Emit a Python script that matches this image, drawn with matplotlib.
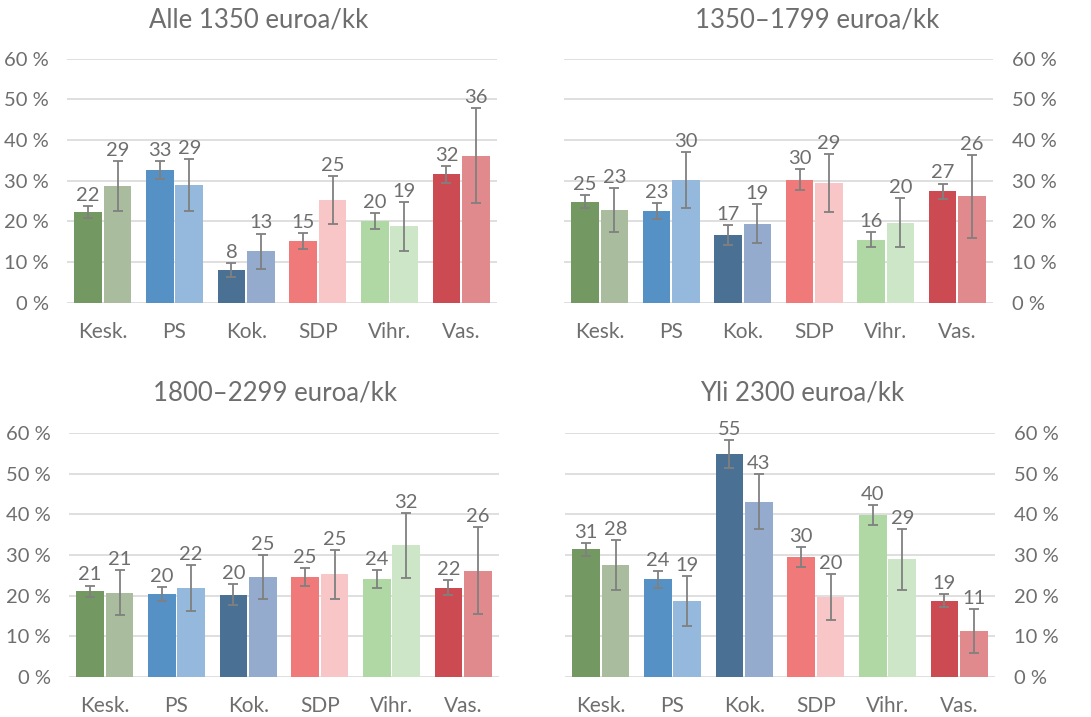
import matplotlib
matplotlib.use("Agg")
import matplotlib.pyplot as plt
import numpy as np

plt.rcParams["font.family"] = ["Lato", "DejaVu Sans"]

parties = ["Kesk.", "PS", "Kok.", "SDP", "Vihr.", "Vas."]
titles = ["Alle 1350 euroa/kk", "1350–1799 euroa/kk", "1800–2299 euroa/kk", "Yli 2300 euroa/kk"]

# dark bar values and error half-widths, then light bar values and errors (per panel)
dark_vals = [
    [22.3, 32.7, 8.0, 15.2, 20.1, 31.6],
    [24.8, 22.6, 16.7, 30.2, 15.5, 27.4],
    [21.1, 20.4, 20.2, 24.6, 24.1, 22.0],
    [31.4, 24.0, 54.8, 29.5, 39.8, 18.8],
]
dark_err = [
    [1.4, 2.2, 1.8, 2.0, 2.0, 2.1],
    [1.6, 2.0, 2.4, 2.6, 1.8, 1.9],
    [1.4, 1.8, 2.6, 2.3, 2.1, 1.8],
    [1.6, 2.0, 3.5, 2.5, 2.45, 1.7],
]
light_vals = [
    [28.7, 28.9, 12.6, 25.2, 18.8, 36.1],
    [22.8, 30.2, 19.4, 29.4, 19.7, 26.2],
    [20.7, 21.9, 24.6, 25.3, 32.4, 26.1],
    [27.6, 18.7, 43.1, 19.7, 28.9, 11.3],
]
light_err = [
    [6.1, 6.4, 4.4, 5.9, 6.0, 11.7],
    [5.5, 6.8, 4.8, 7.1, 6.1, 10.2],
    [5.5, 5.6, 5.4, 6.0, 8.0, 10.7],
    [6.1, 6.1, 6.7, 5.6, 7.5, 5.5],
]

dark_colors = ["#739862", "#5591c4", "#4a7093", "#f07979", "#afd8a5", "#cc4b52"]
light_colors = ["#a9bd9e", "#95b9dc", "#94abcd", "#f8c6c6", "#cde6c8", "#e08a8d"]

txt = "#6e6e6e"
grid_c = "#dcdcdc"
err_c = "#808080"

W, H = 1091, 717
fig = plt.figure(figsize=(W / 100, H / 100), dpi=100)

# axes boxes in pixels: left, right, y of 0 %, y of 60 %
boxes = [(67, 497, 302.7, 58.7), (564, 993, 302.7, 58.7),
         (69, 499, 677, 433), (565, 995, 677, 433)]
title_pos = [(259, 20), (817, 20), (275, 393), (802, 393)]

x = np.arange(len(parties))
bw = 0.385
off = 0.205

for i, (l, r, y0, y60) in enumerate(boxes):
    ax = fig.add_axes([l / W, 1 - y0 / H, (r - l) / W, (y0 - y60) / H])
    ax.set_xlim(-0.5, 5.5)
    ax.set_ylim(0, 60)
    ax.set_yticks(range(0, 61, 10))
    ax.set_yticklabels([f"{v} %" for v in range(0, 61, 10)])
    for v in range(0, 61, 10):
        ax.axhline(v, color=grid_c, lw=1.3, zorder=0)
    for s in ax.spines.values():
        s.set_visible(False)
    ax.bar(x - off, dark_vals[i], bw, color=dark_colors, zorder=2)
    ax.bar(x + off, light_vals[i], bw, color=light_colors, zorder=2)
    ax.errorbar(x - off, dark_vals[i], yerr=dark_err[i], fmt="none",
                ecolor=err_c, elinewidth=1.3, capsize=3.5, capthick=1.3, zorder=3)
    ax.errorbar(x + off, light_vals[i], yerr=light_err[i], fmt="none",
                ecolor=err_c, elinewidth=1.3, capsize=3.5, capthick=1.3, zorder=3)
    for xs, vals, errs in ((x - off, dark_vals[i], dark_err[i]),
                           (x + off, light_vals[i], light_err[i])):
        for xx, v, e in zip(xs, vals, errs):
            ax.annotate(f"{round(v)}", (xx, v + e), xytext=(0, 1.5),
                        textcoords="offset points", ha="center", va="bottom",
                        fontsize=14.5, color=txt, clip_on=False)
    ax.set_xticks(x)
    ax.set_xticklabels(parties)
    ax.tick_params(axis="x", length=0, pad=14, labelsize=15, labelcolor=txt)
    ax.tick_params(axis="y", length=0, pad=13, labelsize=14.5, labelcolor=txt)
    if i % 2 == 1:
        ax.yaxis.tick_right()
        ax.tick_params(axis="y", length=0, pad=14)
    tx, ty = title_pos[i]
    fig.text(tx / W, 1 - ty / H, titles[i], ha="center", va="center",
             fontsize=18.5, color=txt)

fig.savefig("out.png", dpi=100)
